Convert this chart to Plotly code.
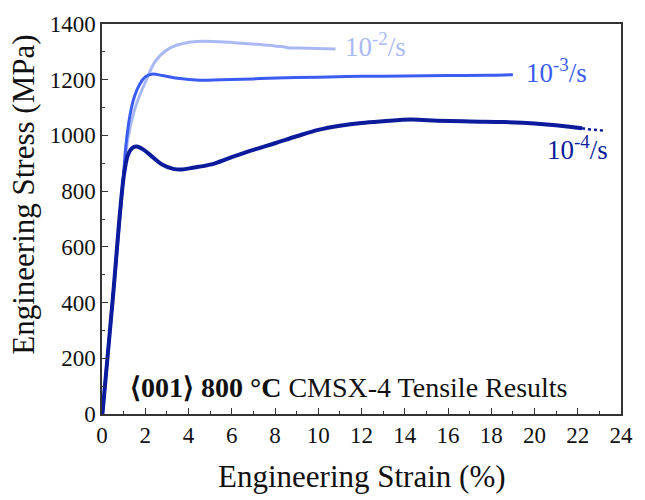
import plotly.graph_objects as go

# Engineering stress-strain curves, CMSX-4 <001> at 800 °C
strain_1e2 = [0.02, 0.5, 1.0, 1.2, 1.5, 1.75, 2.0, 2.5, 3.2, 4.0, 4.6, 5.5, 6.3, 7.5, 8.4, 8.6, 9.5, 10.8]
stress_1e2 = [0, 415, 860, 990, 1090, 1145, 1190, 1270, 1316, 1334, 1338, 1336, 1332, 1325, 1318, 1315, 1313, 1310]

strain_1e3 = [0.02, 0.5, 1.0, 1.1, 1.3, 1.5, 1.75, 2.0, 2.3, 2.8, 3.5, 4.5, 5.5, 7.0, 8.5, 10.0, 12.0, 14.0, 16.0, 18.0, 19.0]
stress_1e3 = [0, 415, 860, 960, 1075, 1140, 1185, 1210, 1220, 1215, 1205, 1198, 1200, 1203, 1207, 1209, 1212, 1213, 1215, 1216, 1218]

strain_1e4 = [0.02, 0.5, 1.0, 1.2, 1.4, 1.6, 1.9, 2.3, 2.8, 3.3, 3.7, 4.2, 5.0, 6.0, 7.0, 8.0, 9.0, 10.0,
              11.0, 12.0, 13.0, 14.3, 15.5, 17.0, 18.6, 20.0, 21.2, 22.2]
stress_1e4 = [0, 415, 850, 930, 955, 960, 950, 925, 895, 880, 878, 884, 895, 922, 948, 972, 997, 1020,
              1035, 1045, 1051, 1057, 1053, 1050, 1048, 1043, 1035, 1026]
# tail of the 10^-4/s test drawn dotted
strain_1e4_tail = [22.2, 22.6, 23.2]
stress_1e4_tail = [1026, 1021, 1017]

x_ticks = list(range(0, 25, 2))
y_ticks = list(range(0, 1401, 200))

c_light = "#aab9f3"
c_mid = "#3a5cf2"
c_dark = "#0c1b9c"
serif = "'Liberation Serif', 'Times New Roman', Times, serif"
ink = "#111"

fig = go.Figure()
fig.add_trace(go.Scatter(x=strain_1e2, y=stress_1e2, mode="lines", line=dict(color=c_light, width=3, shape="spline"), showlegend=False))
fig.add_trace(go.Scatter(x=strain_1e3, y=stress_1e3, mode="lines", line=dict(color=c_mid, width=3, shape="spline"), showlegend=False))
fig.add_trace(go.Scatter(x=strain_1e4, y=stress_1e4, mode="lines", line=dict(color=c_dark, width=4, shape="spline"), showlegend=False))
fig.add_trace(go.Scatter(x=strain_1e4_tail, y=stress_1e4_tail, mode="lines", line=dict(color=c_dark, width=2.5, dash="dot"), showlegend=False))

# rate labels at curve ends
fig.add_annotation(x=11.15, y=1325, text="10<sup>-2</sup>/s", showarrow=False, xanchor="left", yanchor="middle",
                   font=dict(family=serif, size=27, color=c_light))
fig.add_annotation(x=19.5, y=1232, text="10<sup>-3</sup>/s", showarrow=False, xanchor="left", yanchor="middle",
                   font=dict(family=serif, size=27, color=c_mid))
fig.add_annotation(x=20.5, y=956, text="10<sup>-4</sup>/s", showarrow=False, xanchor="left", yanchor="middle",
                   font=dict(family=serif, size=27, color=c_dark))
fig.add_annotation(x=1.22, y=95, text="<b>⟨001⟩ 800 °C</b> CMSX-4 Tensile Results", showarrow=False,
                   xanchor="left", yanchor="middle", font=dict(family=serif, size=28, color=ink))

# axis titles
fig.add_annotation(xref="paper", yref="paper", x=0.5, y=-0.159, text="Engineering Strain (%)", showarrow=False,
                   xanchor="center", yanchor="middle", font=dict(family=serif, size=31, color=ink))
fig.add_annotation(xref="paper", yref="paper", x=-0.1516, y=0.563, text="Engineering Stress (MPa)", showarrow=False,
                   textangle=-90, xanchor="center", yanchor="middle", font=dict(family=serif, size=31, color=ink))

axis_common = dict(showline=True, linecolor="#333", linewidth=1.5, mirror=True, ticks="inside",
                   tickcolor="#333", ticklen=6, tickwidth=1.2, showgrid=False, zeroline=False,
                   tickfont=dict(family=serif, size=23, color=ink))
fig.update_xaxes(range=[0, 24], tickvals=x_ticks,
                 minor=dict(ticks="inside", dtick=1, ticklen=3, tickcolor="#333"), **axis_common)
fig.update_yaxes(range=[0, 1400], tickvals=y_ticks,
                 minor=dict(ticks="inside", dtick=100, ticklen=3, tickcolor="#333"), **axis_common)

fig.update_layout(width=645, height=500, margin=dict(l=102, r=12, t=18, b=86),
                  plot_bgcolor="white", paper_bgcolor="white")
fig.write_html("out.html")
